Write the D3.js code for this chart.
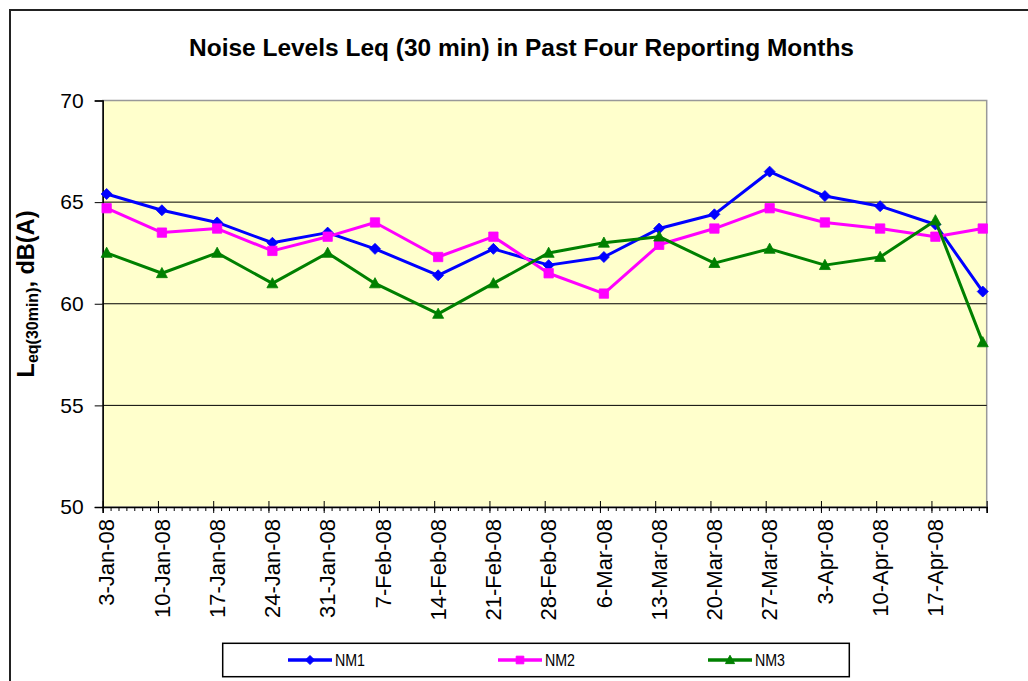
<!DOCTYPE html>
<html><head><meta charset="utf-8">
<script src="https://cdn.jsdelivr.net/npm/d3@7/dist/d3.min.js"></script>
<style>
html,body{margin:0;padding:0;background:#fff;}
svg{display:block;font-family:"Liberation Sans",Arial,sans-serif;}
</style></head>
<body>
<svg id="chart" width="1028" height="681"></svg>
<script>
// ---------- data ----------
const dates = ["2008-01-03","2008-01-10","2008-01-17","2008-01-24","2008-01-31","2008-02-06","2008-02-14","2008-02-21","2008-02-28","2008-03-06","2008-03-13","2008-03-20","2008-03-27","2008-04-03","2008-04-10","2008-04-17","2008-04-23"];
const nm1 = [65.4,64.6,64.0,63.0,63.5,62.7,61.4,62.7,61.9,62.3,63.7,64.4,66.5,65.3,64.8,63.9,60.6];
const nm2 = [64.7,63.5,63.7,62.6,63.3,64.0,62.3,63.3,61.5,60.5,62.9,63.7,64.7,64.0,63.7,63.3,63.7];
const nm3 = [62.5,61.5,62.5,61.0,62.5,61.0,59.5,61.0,62.5,63.0,63.3,62.0,62.7,61.9,62.3,64.1,58.1];
const seriesNames = ["NM1","NM2","NM3"];
const tickLabels = ["3-Jan-08","10-Jan-08","17-Jan-08","24-Jan-08","31-Jan-08","7-Feb-08","14-Feb-08","21-Feb-08","28-Feb-08","6-Mar-08","13-Mar-08","20-Mar-08","27-Mar-08","3-Apr-08","10-Apr-08","17-Apr-08"];
const yTicks = [50,55,60,65,70];
const gridValues = [55,60,65];
const title = "Noise Levels Leq (30 min) in Past Four Reporting Months";

// ---------- setup ----------
const svg = d3.select("#chart");
const parse = d3.utcParse("%Y-%m-%d");
const fmt = d3.utcFormat("%-d-%b-%y");
const DAY = 864e5;
const x0 = 102.7, x1 = 986.7, yTop = 100.5, yBot = 507;
const start = parse("2008-01-03"), end = parse("2008-04-24");
const x = d3.scaleUtc().domain([start, end]).range([x0, x1]);
const y = d3.scaleLinear().domain([50,70]).range([yBot, yTop]);
const colors = ["#0000FF","#FF00FF","#008000"];
const shapes = ["diamond","square","triangle"];
const values = [nm1, nm2, nm3];
const mid = d => new Date(d.getTime() + DAY/2);

// outer frame
svg.append("rect").attr("x",10).attr("y",10).attr("width",1030).attr("height",700)
  .attr("fill","#fff").attr("stroke","#222").attr("stroke-width",2);

// title
svg.append("text").attr("x",521.5).attr("y",56).attr("text-anchor","middle")
  .attr("font-size",23).attr("font-weight","bold").attr("textLength",665)
  .attr("lengthAdjust","spacingAndGlyphs").text(title);

// plot area
svg.append("rect").attr("x",x0).attr("y",yTop).attr("width",x1-x0).attr("height",yBot-yTop)
  .attr("fill","#FFFFCC").attr("stroke","#999").attr("stroke-width",1.5);

// gridlines
svg.append("g").selectAll("line").data(gridValues).join("line")
  .attr("x1",x0).attr("x2",x1).attr("y1",d=>y(d)).attr("y2",d=>y(d))
  .attr("stroke","#000").attr("stroke-width",1);

// y axis
const yAxis = svg.append("g").attr("transform",`translate(${x0},0)`)
  .call(d3.axisLeft(y).tickValues(yTicks).tickSize(8).tickPadding(11).tickFormat(d3.format("d")));
yAxis.select(".domain").attr("stroke","#000").attr("stroke-width",1.5);
yAxis.selectAll(".tick line").attr("stroke","#000");
yAxis.selectAll("text").attr("font-size",21).attr("fill","#000").attr("font-family","Liberation Sans, Arial, sans-serif");

// x axis: minor daily ticks
const dayTicks = d3.utcDay.range(start, d3.utcDay.offset(end,1));
const xMinor = svg.append("g").attr("transform",`translate(0,${yBot})`)
  .call(d3.axisBottom(x).tickValues(dayTicks).tickSize(4).tickFormat(""));
xMinor.select(".domain").remove();
xMinor.selectAll(".tick line").attr("stroke","#000");
// major weekly ticks (crossing)
const weekTicks = d3.range(0,17).map(i=>d3.utcDay.offset(start,7*i));
const xMajor = svg.append("g").attr("transform",`translate(0,${yBot})`)
  .call(d3.axisBottom(x).tickValues(weekTicks).tickSize(6).tickFormat(""));
xMajor.select(".domain").attr("stroke","#000").attr("stroke-width",1.5);
xMajor.selectAll(".tick line").attr("y1",-6).attr("y2",6).attr("stroke","#000");

// x labels (centered in day slot)
const labelDates = tickLabels.map((t,i)=>d3.utcDay.offset(start,7*i));
svg.append("g").selectAll("text").data(labelDates).join("text")
  .attr("transform",d=>`translate(${x(mid(d))},${yBot+12}) rotate(-90)`)
  .attr("text-anchor","end").attr("dy","0.35em").attr("font-size",22)
  .text((d,i)=>tickLabels[i] || fmt(d));

// y axis title
const yt = svg.append("text").attr("transform","translate(34,294) rotate(-90)")
  .attr("text-anchor","middle").attr("font-weight","bold").attr("font-size",23.5);
yt.append("tspan").text("L");
yt.append("tspan").attr("font-size",16).attr("dy",4).text("eq(30min)");
yt.append("tspan").attr("dy",-4).text(", dB(A)");

// marker path
function marker(shape, s){
  if(shape==="diamond") return `M0,${-s}L${s},0L0,${s}L${-s},0Z`;
  if(shape==="square") return `M${-s*0.85},${-s*0.85}H${s*0.85}V${s*0.85}H${-s*0.85}Z`;
  return `M0,${-s*1.05}L${s},${s*0.8}L${-s},${s*0.8}Z`;
}

// series
const pdates = dates.map(parse);
values.forEach((vals,k)=>{
  const pts = vals.map((v,i)=>({d:pdates[i], v}));
  const line = d3.line().x(p=>x(mid(p.d))).y(p=>y(p.v));
  svg.append("path").datum(pts).attr("d",line).attr("fill","none")
    .attr("stroke",colors[k]).attr("stroke-width",3).attr("stroke-linejoin","round");
  svg.append("g").selectAll("path").data(pts).join("path")
    .attr("transform",p=>`translate(${x(mid(p.d))},${y(p.v)})`)
    .attr("d",marker(shapes[k],5.5)).attr("fill",colors[k]).attr("stroke",colors[k]).attr("stroke-width",0.8);
});

// legend
const lg = svg.append("g");
lg.append("rect").attr("x",222.7).attr("y",643.3).attr("width",626.6).attr("height",33.4)
  .attr("fill","#fff").attr("stroke","#000").attr("stroke-width",1.5);
seriesNames.forEach((n,k)=>{
  const lx = 288 + k*210, ly = 660;
  lg.append("line").attr("x1",lx).attr("x2",lx+44).attr("y1",ly).attr("y2",ly)
    .attr("stroke",colors[k]).attr("stroke-width",3.5);
  lg.append("path").attr("transform",`translate(${lx+22},${ly})`).attr("d",marker(shapes[k],4.5))
    .attr("fill",colors[k]).attr("stroke",colors[k]);
  lg.append("text").attr("x",lx+47).attr("y",ly).attr("dy","0.35em").attr("font-size",16)
    .attr("textLength",30).attr("lengthAdjust","spacingAndGlyphs").text(n);
});
</script>
</body></html>
